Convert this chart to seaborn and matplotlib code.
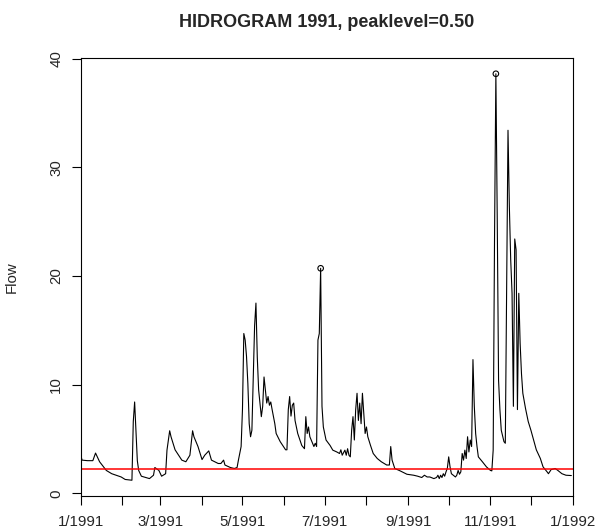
import pandas as pd
import numpy as np
import matplotlib
matplotlib.use("Agg")
import matplotlib.pyplot as plt
import seaborn as sns

# daily flow (day offset from 1 Jan 1991, value)
day = [0, 1, 5, 9, 11, 14, 19, 23, 30, 33, 38, 39, 40, 41, 42, 43, 45, 51, 54, 55,
       58, 60, 63, 64, 66, 67, 70, 75, 78, 81, 83, 84, 87, 90, 92, 95, 97, 102, 104, 106,
       107, 111, 114, 116, 117, 119, 120, 121, 122, 123, 124, 125, 126, 127, 128, 129, 130, 131, 132, 133,
       134, 135, 136, 137, 138, 139, 140, 141, 142, 144, 145, 148, 152, 153, 154, 155, 156, 157, 158, 159,
       161, 164, 166, 167, 168, 169, 170, 172, 173, 174, 175, 176, 177, 178, 179, 180, 182, 185, 187, 190,
       192, 193, 194, 196, 197, 198, 199, 200, 201, 202, 203, 204, 205, 206, 207, 208, 209, 210, 211, 212,
       213, 215, 217, 220, 223, 227, 229, 230, 231, 233, 237, 242, 247, 250, 253, 255, 257, 259, 262, 264,
       265, 266, 267, 268, 269, 270, 271, 272, 273, 274, 275, 278, 279, 280, 281, 282, 283, 284, 285, 286,
       287, 288, 289, 290, 291, 292, 293, 294, 295, 298, 301, 304, 305, 306, 307, 308, 309, 310, 311, 312,
       314, 315, 316, 317, 318, 319, 320, 321, 322, 323, 324, 325, 326, 327, 328, 330, 332, 334, 336, 338,
       341, 343, 346, 347, 349, 352, 354, 357, 360, 364]
flow = [3.5, 3.05, 3.0, 3.0, 3.7, 2.9, 2.1, 1.8, 1.5, 1.27, 1.2, 6.6, 8.4, 5.7, 3.0, 2.1, 1.57, 1.35, 1.66, 2.37,
        2.1, 1.57, 1.8, 3.97, 5.75, 5.2, 4.0, 3.05, 2.9, 3.5, 5.75, 5.2, 4.3, 3.1, 3.5, 3.9, 3.05, 2.74, 2.74, 3.05,
        2.6, 2.37, 2.28, 2.37, 3.05, 4.3, 7.7, 14.7, 14.1, 12.6, 10.1, 6.4, 5.2, 5.8, 10.7, 15.4, 17.5, 12.5, 9.5, 8.3,
        7.05, 8.0, 10.7, 9.5, 8.3, 8.9, 8.1, 8.4, 7.7, 6.4, 5.5, 4.75, 4.0, 4.0, 7.7, 8.9, 7.1, 8.1, 8.3, 6.7,
        5.5, 4.4, 4.1, 7.05, 5.5, 6.1, 5.2, 4.6, 4.3, 4.6, 4.3, 14.1, 14.7, 20.7, 8.0, 6.1, 4.9, 4.4, 3.97, 3.8,
        3.66, 4.0, 3.5, 3.97, 3.5, 4.1, 3.5, 3.35, 5.8, 7.05, 4.9, 7.7, 9.2, 6.7, 8.3, 6.4, 9.2, 7.4, 5.5, 6.1,
        5.2, 4.4, 3.66, 3.2, 2.9, 2.6, 2.6, 4.3, 3.05, 2.28, 2.06, 1.75, 1.66, 1.57, 1.45, 1.66, 1.5, 1.5, 1.35, 1.45,
        1.66, 1.35, 1.66, 1.45, 1.8, 1.57, 1.97, 2.3, 3.35, 2.43, 1.8, 1.5, 1.66, 2.1, 1.75, 1.97, 3.66, 3.05, 3.97, 3.2,
        5.2, 3.8, 4.9, 4.3, 12.3, 8.0, 5.5, 4.3, 3.35, 2.9, 2.43, 2.1, 2.06, 3.97, 23.4, 38.6, 25.5, 10.4, 7.7, 5.8,
        4.75, 4.6, 19.0, 33.4, 26.4, 21.5, 18.4, 8.0, 23.4, 22.4, 7.7, 18.4, 13.8, 11.0, 9.2, 7.8, 6.6, 5.8, 4.9, 4.0,
        3.2, 2.43, 1.97, 1.8, 2.18, 2.28, 2.1, 1.8, 1.66, 1.63]

peak_day = [178, 308]
peak_flow = [20.7, 38.6]
threshold = 2.2

month_labels = ["1/1991", "", "3/1991", "", "5/1991", "", "7/1991", "", "9/1991", "", "11/1991", "", "1/1992"]

start = pd.Timestamp("1991-01-01")
df = pd.DataFrame({"Date": start + pd.to_timedelta(day, unit="D"), "Flow": flow})
peaks = pd.DataFrame({"Date": start + pd.to_timedelta(peak_day, unit="D"), "Flow": peak_flow})
months = pd.date_range("1991-01-01", "1992-01-01", freq="MS")

sns.set_style("white")
plt.rcParams["font.family"] = ["Liberation Sans", "DejaVu Sans"]

fig = plt.figure(figsize=(5.97, 5.31), dpi=100)
ax = fig.add_axes([0.1352, 0.065, 0.8241, 0.8267])

sns.lineplot(data=df, x="Date", y="Flow", ax=ax, color="black", lw=0.8,
             sort=False, estimator=None)
ax.axhline(threshold, color="red", lw=1.1)
sns.scatterplot(data=peaks, x="Date", y="Flow", ax=ax, marker="o", s=16,
                facecolor="none", edgecolor="black", linewidth=0.8, zorder=5)

# R-style limits: 4% padding on y, exact year on x
lo, hi = min(flow), max(flow)
ax.set_ylim(lo - 0.04 * (hi - lo), hi + 0.04 * (hi - lo))
ax.set_xlim(months[0], months[-1])

ax.set_xticks(months)
ax.set_xticklabels(month_labels)
ax.set_yticks([0, 10, 20, 30, 40])
ax.tick_params(axis="both", direction="out", length=6.5, width=0.8, color="black",
               labelsize=10.8, bottom=True, left=True)
ax.tick_params(axis="x", pad=7)
ax.tick_params(axis="y", pad=6)
for lab in ax.get_yticklabels():
    lab.set_rotation(90)
    lab.set_va("center")

for sp in ax.spines.values():
    sp.set_color("black")
    sp.set_linewidth(0.8)

ax.set_xlabel("")
ax.set_ylabel("Flow", fontsize=10.8, labelpad=22)
ax.set_title("HIDROGRAM 1991, peaklevel=0.50", fontsize=13, fontweight="bold", pad=22)

fig.savefig("out.png", dpi=100)
